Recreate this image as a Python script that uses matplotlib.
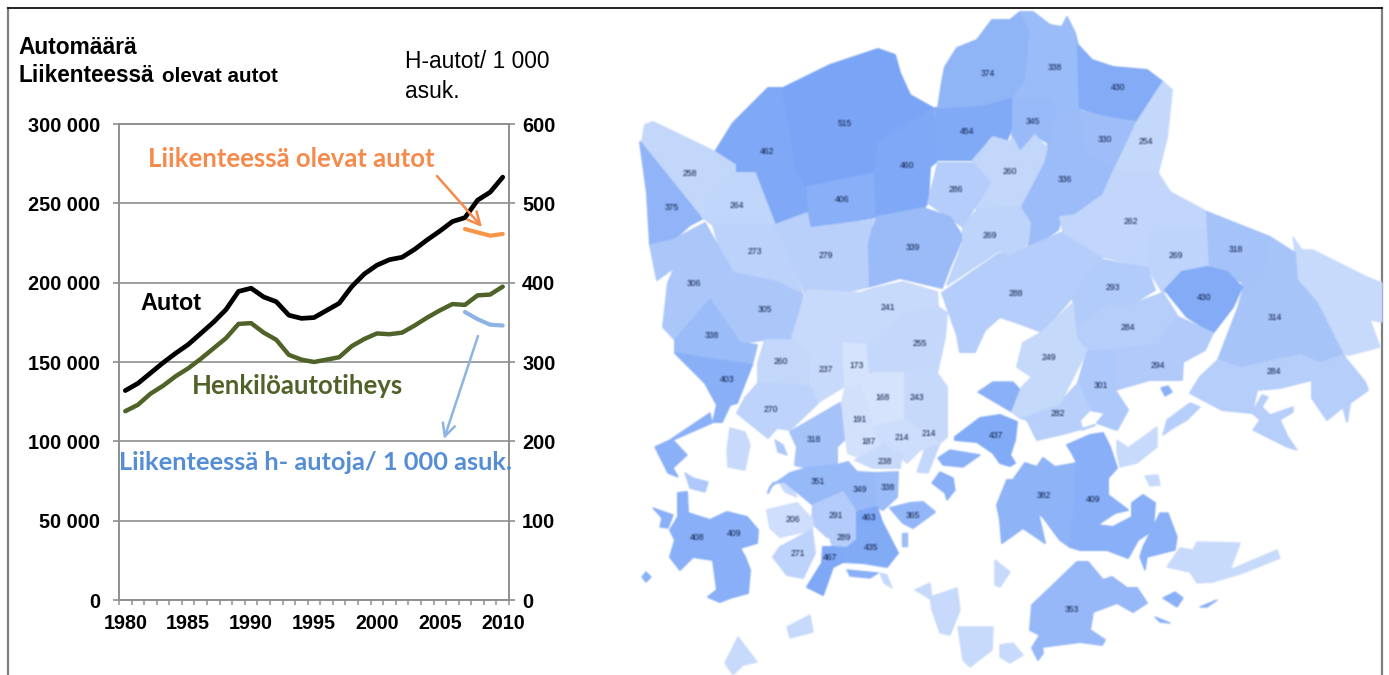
import matplotlib
matplotlib.use('Agg')
import matplotlib.pyplot as plt
import numpy as np
from matplotlib.colors import LinearSegmentedColormap, Normalize
from matplotlib.patches import Polygon

# chart data
years = list(range(1980, 2011))
autot = [132000, 136500, 143000, 149500, 155500, 161000, 168000, 175000, 183000, 194500,
         196500, 191000, 188000, 179500, 177500, 178000, 182500, 187000, 197500, 205500,
         211000, 214500, 216000, 221000, 227000, 232500, 238500, 241000, 252000, 257000, 266500]
tiheys = [238, 246, 260, 270, 282, 292, 304, 317, 330, 348,
          349, 337, 328, 309, 303, 300, 303, 306, 320, 329,
          336, 335, 337, 346, 356, 365, 373, 372, 384, 385, 395]
years_liik = [2007, 2008, 2009, 2010]
liik_autot = [233800, 231700, 229600, 230700]
liik_tiheys = [363, 354, 347, 346]
left_ticks = [0, 50000, 100000, 150000, 200000, 250000, 300000]
left_labels = ['0', '50 000', '100 000', '150 000', '200 000', '250 000', '300 000']
right_ticks = [0, 100, 200, 300, 400, 500, 600]
year_labels = [1980, 1985, 1990, 1995, 2000, 2005, 2010]

# map data (pixels), one outline per area
map_values = [462, 515, 406, 460, 454, 345, 374, 338, 430, 330, 254, 336, 260, 286, 339, 269,
              288, 262, 269, 318, 314, 430, 293, 284, 294, 301, 282, 249, 284, 258, 375, 264,
              273, 279, 306, 305, 338, 403, 241, 237, 173, 255, 260, 270, 318, 168, 191, 243,
              187, 214, 214, 238, 351, 349, 338, 291, 289, 463, 435, 467, 365, 206, 271, 408,
              437, 382, 409, 353]
map_label_xy = [(767, 152), (845, 123), (842, 199), (907, 166), (967, 131), (1033, 121), (988, 73), (1055, 67),
                (1118, 88), (1105, 139), (1146, 142), (1065, 180), (1010, 172), (956, 190), (913, 248), (990, 236),
                (1016, 293), (1131, 221), (1176, 256), (1236, 250), (1275, 317), (1204, 298), (1113, 288), (1128, 327),
                (1158, 365), (1101, 386), (1058, 413), (1049, 357), (1274, 371), (690, 173), (672, 207), (737, 205),
                (755, 252), (826, 256), (694, 283), (765, 310), (712, 336), (727, 380), (888, 307), (826, 369),
                (857, 365), (920, 344), (781, 361), (771, 409), (814, 440), (883, 398), (860, 420), (917, 397),
                (869, 442), (902, 437), (929, 433), (885, 461), (818, 482), (860, 490), (888, 487), (836, 516),
                (844, 537), (869, 518), (871, 548), (830, 558), (913, 515), (793, 519), (798, 553), (697, 538),
                (996, 436), (1044, 496), (1093, 499), (1072, 609)]
extra_label = 409
extra_label_xy = (734, 534)
map_outlines = [
    [(768, 88), (783, 88), (797, 170), (807, 187), (807, 213), (777, 226), (755, 173), (735, 172), (735, 165), (715, 152), (733, 123)],
    [(783, 88), (830, 65), (878, 49), (895, 55), (900, 73), (910, 95), (933, 108), (905, 125), (878, 142), (878, 173), (807, 187), (797, 170)],
    [(807, 187), (875, 173), (877, 217), (810, 228)],
    [(878, 142), (933, 108), (938, 160), (930, 167), (928, 202), (923, 210), (905, 210), (877, 216), (875, 173)],
    [(935, 108), (983, 105), (1010, 97), (1015, 100), (1013, 125), (1007, 140), (990, 137), (973, 160), (938, 160)],
    [(1013, 98), (1050, 97), (1057, 110), (1048, 143), (1035, 135), (1020, 152), (1012, 137), (1013, 123)],
    [(938, 108), (942, 82), (945, 67), (957, 48), (977, 40), (992, 20), (1010, 20), (1020, 12), (1030, 30), (1028, 60), (1025, 82), (1013, 98), (1010, 97), (983, 105)],
    [(1020, 12), (1033, 12), (1050, 25), (1062, 27), (1067, 17), (1075, 33), (1078, 45), (1080, 110), (1057, 110), (1050, 97), (1013, 98), (1025, 82), (1028, 60), (1030, 30)],
    [(1078, 45), (1092, 60), (1113, 67), (1147, 70), (1163, 82), (1137, 122), (1110, 118), (1080, 108)],
    [(1078, 110), (1110, 118), (1137, 122), (1113, 172), (1103, 165), (1083, 153)],
    [(1163, 82), (1172, 90), (1167, 137), (1158, 173), (1113, 173), (1137, 122)],
    [(1078, 110), (1083, 153), (1113, 172), (1103, 195), (1075, 215), (1060, 223), (1058, 230), (1028, 250), (1030, 223), (1020, 207), (1043, 163), (1047, 148), (1057, 110)],
    [(973, 160), (993, 137), (1010, 142), (1012, 137), (1020, 152), (1035, 135), (1047, 148), (1043, 163), (1020, 207), (977, 210), (973, 200), (990, 183), (973, 163)],
    [(938, 163), (973, 163), (990, 183), (973, 210), (963, 227), (928, 203)],
    [(877, 217), (923, 208), (950, 217), (963, 237), (950, 267), (942, 288), (900, 278), (868, 287), (867, 243)],
    [(977, 210), (1020, 207), (1030, 223), (1028, 243), (1010, 257), (1000, 250), (947, 285), (963, 243), (963, 227)],
    [(942, 293), (1000, 253), (1010, 257), (1025, 248), (1063, 232), (1103, 257), (1073, 297), (1042, 332), (1018, 323), (1000, 317), (985, 330), (975, 352), (960, 352), (957, 335)],
    [(1113, 172), (1158, 173), (1170, 192), (1207, 212), (1207, 230), (1153, 233), (1147, 267), (1103, 257), (1063, 232), (1060, 217), (1075, 215), (1103, 195)],
    [(1153, 233), (1207, 230), (1210, 268), (1182, 272), (1163, 293), (1147, 267)],
    [(1207, 212), (1270, 237), (1263, 273), (1243, 290), (1242, 282), (1210, 268)],
    [(1270, 237), (1295, 253), (1297, 280), (1317, 303), (1343, 355), (1320, 363), (1300, 355), (1240, 368), (1218, 360), (1238, 308), (1243, 290), (1263, 273)],
    [(1165, 290), (1182, 272), (1207, 267), (1227, 272), (1242, 287), (1233, 307), (1213, 333), (1187, 317)],
    [(1103, 260), (1147, 268), (1155, 290), (1130, 305), (1110, 303), (1075, 327), (1073, 297)],
    [(1073, 330), (1110, 305), (1130, 305), (1163, 293), (1178, 317), (1163, 335), (1160, 345), (1085, 352), (1077, 345)],
    [(1163, 335), (1178, 317), (1213, 333), (1205, 350), (1183, 362), (1182, 380), (1150, 380), (1115, 390), (1113, 350), (1160, 345)],
    [(1087, 352), (1113, 350), (1115, 390), (1128, 410), (1117, 430), (1097, 423), (1105, 413), (1090, 410), (1078, 383)],
    [(1020, 418), (1060, 403), (1078, 383), (1090, 410), (1080, 420), (1082, 430), (1095, 425), (1067, 433), (1037, 440), (1027, 420)],
    [(1073, 303), (1075, 327), (1077, 340), (1087, 350), (1060, 403), (1020, 418), (1012, 412), (1022, 387), (1032, 377), (1017, 367), (1023, 343), (1042, 332)],
    [(1218, 360), (1240, 368), (1300, 355), (1320, 363), (1343, 355), (1365, 382), (1368, 390), (1350, 403), (1347, 422), (1343, 407), (1327, 420), (1312, 398), (1312, 380), (1280, 388), (1257, 390), (1252, 413), (1222, 410), (1190, 393), (1200, 377)],
    [(645, 125), (653, 122), (705, 147), (715, 152), (735, 165), (735, 172), (707, 207), (702, 217), (642, 142)],
    [(640, 142), (702, 219), (690, 225), (673, 240), (650, 245), (647, 193)],
    [(707, 207), (735, 173), (755, 173), (775, 225), (713, 225), (702, 217)],
    [(713, 225), (775, 225), (783, 237), (803, 295), (777, 282), (733, 273), (720, 250)],
    [(775, 225), (807, 213), (810, 228), (873, 220), (867, 243), (868, 287), (820, 298), (805, 293), (783, 237)],
    [(650, 245), (673, 240), (705, 223), (720, 250), (733, 273), (742, 343), (675, 340), (663, 327), (668, 283), (675, 267), (657, 280)],
    [(733, 273), (777, 282), (803, 295), (792, 338), (763, 340), (742, 343)],
    [(675, 340), (710, 300), (740, 343), (757, 345), (752, 365), (697, 357), (675, 353)],
    [(675, 353), (697, 357), (752, 365), (737, 403), (730, 405), (722, 422), (713, 422), (717, 405), (705, 383)],
    [(875, 288), (903, 282), (937, 292), (938, 307), (907, 313), (880, 335), (868, 345), (843, 343), (852, 313), (860, 293)],
    [(807, 290), (860, 293), (852, 313), (843, 343), (843, 387), (817, 403), (812, 387), (810, 362), (792, 337), (802, 307)],
    [(843, 343), (868, 345), (868, 372), (873, 373), (872, 383), (845, 388)],
    [(938, 307), (947, 313), (945, 337), (937, 373), (870, 372), (868, 345), (880, 335), (907, 313)],
    [(758, 363), (765, 340), (792, 340), (808, 357), (810, 387), (758, 383)],
    [(758, 383), (810, 387), (818, 403), (790, 430), (777, 428), (768, 438), (758, 430), (737, 413), (745, 398)],
    [(790, 432), (840, 403), (847, 437), (837, 447), (837, 465), (807, 468), (795, 465), (797, 447)],
    [(845, 388), (873, 373), (905, 373), (905, 420), (873, 427), (860, 385)],
    [(845, 388), (860, 385), (873, 427), (845, 432), (842, 403)],
    [(905, 373), (937, 373), (947, 387), (947, 437), (940, 443), (905, 420)],
    [(845, 433), (873, 427), (893, 427), (883, 445), (860, 458), (848, 453)],
    [(873, 427), (905, 420), (910, 427), (897, 453), (883, 445)],
    [(905, 420), (940, 443), (920, 450), (907, 463), (897, 453)],
    [(860, 458), (883, 445), (897, 453), (902, 453), (900, 468), (873, 468), (855, 460)],
    [(790, 473), (807, 468), (837, 465), (848, 462), (843, 492), (813, 505), (785, 482), (773, 483), (768, 493), (770, 487)],
    [(848, 462), (857, 472), (875, 473), (877, 507), (857, 512), (843, 492)],
    [(875, 473), (898, 472), (897, 497), (883, 510), (877, 507)],
    [(813, 505), (843, 492), (857, 513), (857, 530), (837, 537), (827, 537), (812, 523)],
    [(837, 537), (857, 530), (857, 540), (847, 548), (833, 547), (830, 538)],
    [(857, 512), (877, 507), (882, 522), (857, 525)],
    [(857, 525), (882, 522), (898, 553), (887, 567), (863, 563), (843, 562), (833, 547), (847, 548), (857, 540)],
    [(823, 547), (833, 547), (843, 562), (833, 567), (823, 595), (807, 587), (822, 563)],
    [(890, 508), (910, 503), (923, 502), (935, 512), (913, 528), (903, 523)],
    [(767, 510), (797, 503), (813, 520), (812, 530), (780, 537), (770, 528)],
    [(780, 547), (812, 530), (815, 553), (803, 578), (787, 575), (773, 557)],
    [(670, 530), (678, 517), (678, 493), (687, 492), (688, 513), (710, 520), (727, 512), (747, 517), (758, 530), (757, 543), (740, 548), (745, 557), (750, 570), (748, 593), (730, 598), (720, 602), (708, 597), (717, 590), (713, 560), (693, 557), (680, 570), (670, 557), (675, 540)],
    [(955, 437), (980, 418), (1000, 415), (1017, 422), (1015, 440), (1010, 455), (1015, 463), (1010, 466), (1000, 463), (993, 453), (977, 442), (955, 440)],
    [(997, 505), (1007, 480), (1013, 480), (1025, 463), (1037, 467), (1043, 458), (1055, 467), (1077, 463), (1075, 507), (1070, 547), (1060, 540), (1043, 517), (1038, 513), (1045, 543), (1023, 528), (1002, 543), (1000, 520)],
    [(1067, 445), (1090, 435), (1103, 433), (1110, 447), (1117, 468), (1108, 478), (1108, 495), (1128, 510), (1115, 513), (1097, 525), (1113, 527), (1132, 517), (1132, 503), (1143, 495), (1155, 503), (1153, 530), (1138, 540), (1128, 558), (1107, 550), (1080, 550), (1070, 547), (1075, 507), (1077, 463), (1072, 453)],
    [(1032, 605), (1050, 588), (1077, 562), (1088, 562), (1103, 580), (1112, 577), (1127, 588), (1137, 588), (1147, 603), (1133, 612), (1117, 603), (1093, 612), (1090, 630), (1105, 640), (1102, 645), (1080, 642), (1057, 645), (1042, 647), (1043, 653), (1038, 660), (1032, 648), (1040, 635), (1030, 630)],
]

# islands and other areas without a number
island_values = [284, 284, 240, 240, 240, 240, 240, 240, 240, 240, 240, 240, 240, 400, 400, 400,
                 400, 400, 400, 400, 400, 400, 300, 260, 400, 400, 300,
                 400, 330, 240, 240, 240]
island_outlines = [
    [(1252, 413), (1262, 395), (1268, 397), (1262, 407), (1270, 415), (1293, 407), (1293, 412), (1280, 420), (1288, 437), (1297, 450), (1287, 447), (1253, 430), (1260, 420)],
    [(1163, 435), (1167, 420), (1190, 403), (1200, 407), (1187, 420), (1173, 428)],
    [(1293, 237), (1302, 250), (1313, 250), (1367, 277), (1382, 283), (1382, 322), (1370, 320), (1380, 347), (1350, 355), (1343, 355), (1317, 303), (1297, 280), (1295, 253)],
    [(1117, 440), (1128, 448), (1157, 427), (1157, 447), (1137, 463), (1120, 467), (1117, 453)],
    [(1167, 567), (1180, 548), (1193, 550), (1197, 542), (1240, 543), (1230, 570), (1277, 550), (1280, 558), (1243, 573), (1213, 582), (1197, 583), (1190, 572)],
    [(1000, 645), (1013, 643), (1023, 655), (1010, 663), (1000, 657)],
    [(958, 627), (993, 627), (992, 650), (970, 667), (963, 660)],
    [(930, 597), (957, 588), (960, 610), (950, 635), (940, 633), (932, 610)],
    [(915, 590), (930, 583), (932, 600)],
    [(787, 627), (810, 615), (813, 632), (790, 638)],
    [(725, 663), (738, 637), (757, 662), (743, 665), (733, 675)],
    [(995, 560), (1010, 572), (1000, 587), (995, 585)],
    [(730, 428), (745, 432), (750, 445), (745, 470), (728, 467), (727, 450)],
    [(655, 447), (670, 440), (710, 413), (712, 423), (673, 440), (687, 455), (673, 468), (678, 477), (668, 473), (658, 453)],
    [(653, 508), (673, 515), (668, 528), (660, 527), (662, 518)],
    [(978, 392), (993, 382), (1013, 382), (1023, 393), (1012, 412), (1000, 405)],
    [(938, 458), (950, 450), (980, 455), (963, 467), (943, 465)],
    [(932, 483), (940, 472), (953, 478), (955, 490), (947, 500), (945, 493)],
    [(1143, 547), (1160, 513), (1168, 513), (1177, 537), (1175, 550), (1147, 557), (1145, 570), (1140, 557)],
    [(1163, 598), (1175, 592), (1183, 598), (1177, 607)],
    [(1200, 607), (1217, 600), (1207, 607)],
    [(1155, 617), (1170, 623), (1160, 622)],
    [(775, 440), (783, 445), (787, 455), (778, 452)],
    [(917, 472), (927, 443), (940, 443), (928, 473)],
    [(642, 577), (646, 572), (651, 577), (646, 582)],
    [(847, 570), (878, 573), (870, 578), (850, 576)],
    [(685, 473), (693, 478), (708, 482), (705, 492), (690, 488)],
    [(1161, 388), (1168, 386), (1172, 392), (1165, 396)],
    [(902, 533), (907, 533), (907, 546), (902, 546)],
    [(880, 573), (887, 575), (892, 588), (884, 583)],
    [(1145, 476), (1158, 475), (1160, 485), (1150, 486)],
    [(780, 484), (790, 484), (797, 497), (785, 492)],
]


def soften(img, dpi):
    # small blur, the map in the picture is a soft scan
    pad = 2
    img = np.pad(img, ((pad, pad), (pad, pad), (0, 0)))
    rgb = img[..., :3] * img[..., 3:]
    out = np.dstack([rgb, img[..., 3]])
    for axis in (0, 1):
        out = (np.roll(out, 1, axis) + 2 * out + np.roll(out, -1, axis)) / 4
    alpha = np.clip(out[..., 3:], 1e-4, None)
    out[..., :3] = np.clip(out[..., :3] / alpha, 0, 1)
    return out, -pad, -pad


plt.rcParams['font.family'] = ['Liberation Sans', 'DejaVu Sans']

fig = plt.figure(figsize=(13.89, 6.75), dpi=100)

# page frame
page = fig.add_axes([0, 0, 1, 1], zorder=1)
page.set_xlim(0, 1389)
page.set_ylim(675, 0)
page.axis('off')
page.plot([8, 8], [8, 675], color='#7f7f7f', lw=1.6)
page.plot([1382, 1382], [8, 675], color='#7f7f7f', lw=1.6)
page.plot([8, 1382], [8, 8], color='#111111', lw=1.3)

# map in pixels of the picture
cmap = LinearSegmentedColormap.from_list(
    'tiheys', [(0.0, '#D6E3FC'), (0.26, '#C3D7FB'), (0.38, '#ADC8FA'),
               (0.5, '#98BAF8'), (0.76, '#82ABF6'), (1.0, '#7AA5F6')])
norm = Normalize(170, 515)

map_ax = fig.add_axes([0, 0, 1, 1], zorder=1.5)
map_ax.set_xlim(0, 1389)
map_ax.set_ylim(675, 0)
map_ax.axis('off')
map_ax.set_agg_filter(soften)

for value, outline in zip(island_values, island_outlines):
    map_ax.add_patch(Polygon(outline, closed=True, facecolor=cmap(norm(value)),
                             edgecolor=cmap(norm(value)), lw=1.0, joinstyle='round'))
for value, outline in zip(map_values, map_outlines):
    map_ax.add_patch(Polygon(outline, closed=True, facecolor=cmap(norm(value)),
                             edgecolor=cmap(norm(value)), lw=1.4, joinstyle='round'))
for value, (x, y) in zip(map_values, map_label_xy):
    map_ax.text(x, y, str(value), fontsize=6.2, color='#0f1f4a', ha='center', va='center')
map_ax.text(extra_label_xy[0], extra_label_xy[1], str(extra_label), fontsize=6.2, color='#0f1f4a', ha='center', va='center')

# chart
ax = fig.add_axes([119 / 1389, 75 / 675, 390 / 1389, 476 / 675], zorder=2)
ax.patch.set_alpha(0)
ax.set_xlim(1979.5, 2010.5)
ax.set_ylim(0, 300000)
ax.set_yticks(left_ticks)
ax.set_yticklabels(left_labels, fontsize=14.3, fontweight='bold')
ax.set_xticks([y - 0.5 for y in years] + [2010.5])
ax.set_xticklabels([])
ax.set_xticks(year_labels, minor=True)
ax.set_xticklabels([str(y) for y in year_labels], minor=True, fontsize=14.2, fontweight='bold')
ax.grid(axis='y', color='#8f8f8f', lw=1.2)
ax.set_axisbelow(True)
ax.tick_params(axis='x', which='major', length=3.8, width=1.1, color='#8f8f8f')
ax.tick_params(axis='x', which='minor', length=0, pad=10)
ax.tick_params(axis='y', length=4.5, width=1.2, color='#8f8f8f', pad=9)
for side in ax.spines.values():
    side.set_color('#8f8f8f')
    side.set_linewidth(1.2)

ax2 = ax.twinx()
ax2.patch.set_alpha(0)
ax2.set_ylim(0, 600)
ax2.set_yticks(right_ticks)
ax2.set_yticklabels([str(t) for t in right_ticks], fontsize=14.3, fontweight='bold')
ax2.tick_params(axis='y', length=4.5, width=1.2, color='#8f8f8f', pad=5)
for side in ax2.spines.values():
    side.set_color('#8f8f8f')
    side.set_linewidth(1.2)

ax.plot(years, autot, color='black', lw=3.4, solid_capstyle='round', zorder=3)
ax.plot(years_liik, liik_autot, color='#F79646', lw=3, solid_capstyle='round', zorder=3)
ax2.plot(years, tiheys, color='#4F6228', lw=3.2, solid_capstyle='round', zorder=3)
ax2.plot(years_liik, liik_tiheys, color='#8DB4E2', lw=3, solid_capstyle='round', zorder=3)

# texts and arrows on top
top = fig.add_axes([0, 0, 1, 1], zorder=3)
top.set_xlim(0, 1389)
top.set_ylim(675, 0)
top.axis('off')

top.text(18, 54, 'Automäärä', fontsize=16.4, fontweight='bold', va='baseline')
top.text(18, 82, 'Liikenteessä', fontsize=16.3, fontweight='bold', va='baseline')
top.text(162, 82, 'olevat autot', fontsize=14.9, fontweight='bold', va='baseline')
top.text(405, 68, 'H-autot/ 1 000', fontsize=16.4, va='baseline')
top.text(405, 98, 'asuk.', fontsize=16.4, va='baseline')
top.text(140, 310, 'Autot', fontsize=16.8, fontweight='bold', va='baseline')
top.text(148, 159, 'Liikenteessä olevat autot', fontsize=18.5, fontweight='bold', family='Lato',
         color='#F58A4B', va='center')
top.text(192, 386, 'Henkilöautotiheys', fontsize=18.5, fontweight='bold', family='Lato',
         color='#4F6228', va='center')
top.text(119, 462, 'Liikenteessä h- autoja/ 1 000 asuk.', fontsize=18.3, fontweight='bold', family='Lato',
         color='#558ED5', va='center')

top.annotate('', xy=(482, 227), xytext=(437, 176),
             arrowprops=dict(arrowstyle='->,head_length=0.9,head_width=0.45', color='#F58A4B', lw=1.8,
                             shrinkA=0, shrinkB=0))
top.annotate('', xy=(444, 439), xytext=(478, 336),
             arrowprops=dict(arrowstyle='->,head_length=0.9,head_width=0.45', color='#8DB4E2', lw=1.8,
                             shrinkA=0, shrinkB=0))

fig.savefig('out.png', dpi=100, facecolor='white')
